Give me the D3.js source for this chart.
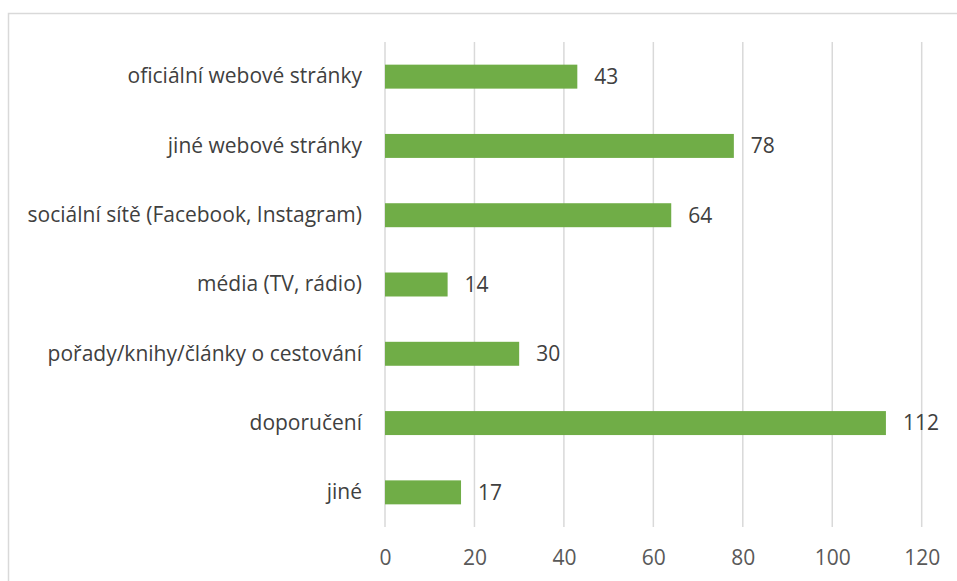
<!DOCTYPE html>
<html>
<head>
<meta charset="utf-8">
<script src="https://cdn.jsdelivr.net/npm/d3@7"></script>
<style>
  html, body { margin: 0; padding: 0; background: #fff; }
  svg { display: block; }
  text { font-family: "Open Sans", sans-serif; fill: #404040; }
</style>
</head>
<body>
<svg id="chart" width="957" height="581"></svg>
<script>
// Categories (top to bottom) and their counts
const categories = [
  "oficiální webové stránky",
  "jiné webové stránky",
  "sociální sítě (Facebook, Instagram)",
  "média (TV, rádio)",
  "pořady/knihy/články o cestování",
  "doporučení",
  "jiné"
];
const values = [43, 78, 64, 14, 30, 112, 17];
const xTicks = [0, 20, 40, 60, 80, 100, 120];

const svg = d3.select("#chart");
const W = 957, H = 581;
const fontSize = "21px";

// outer frame
svg.append("rect")
  .attr("x", 8.5).attr("y", 13.5)
  .attr("width", W + 10).attr("height", H + 10)
  .attr("fill", "none").attr("stroke", "#d9d9d9").attr("stroke-width", 1.5);

const plot = { left: 385, right: 921.7, top: 42, bottom: 527 };

const x = d3.scaleLinear().domain([0, 120]).range([plot.left, plot.right]);
const y = d3.scaleBand().domain(categories).range([plot.top, plot.bottom]).paddingInner(0.654).paddingOuter(0.327);

// vertical gridlines
svg.append("g")
  .selectAll("line")
  .data(xTicks)
  .join("line")
  .attr("x1", d => x(d)).attr("x2", d => x(d))
  .attr("y1", plot.top).attr("y2", plot.bottom)
  .attr("stroke", "#d9d9d9").attr("stroke-width", 1.5);

// x axis tick labels
const xAxis = d3.axisBottom(x).tickValues(xTicks).tickSize(0).tickPadding(0);
const gx = svg.append("g").attr("transform", `translate(0,${plot.bottom + 23})`).call(xAxis);
gx.select(".domain").remove();
gx.selectAll("text")
  .attr("dy", "0.71em")
  .style("font-size", fontSize)
  .style("fill", "#595959")
  .attr("font-family", null);

// y axis category labels
const yAxis = d3.axisLeft(y).tickSize(0).tickPadding(0);
const gy = svg.append("g").attr("transform", `translate(${plot.left - 23},0)`).call(yAxis);
gy.select(".domain").remove();
gy.selectAll("text")
  .style("font-size", fontSize)
  .style("fill", "#404040")
  .attr("font-family", null);

// bars
svg.append("g")
  .selectAll("rect")
  .data(values)
  .join("rect")
  .attr("x", x(0))
  .attr("y", (d, i) => y(categories[i]))
  .attr("width", d => x(d) - x(0))
  .attr("height", y.bandwidth())
  .attr("fill", "#70ad47");

// value labels
svg.append("g")
  .selectAll("text")
  .data(values)
  .join("text")
  .attr("x", d => x(d) + 17)
  .attr("y", (d, i) => y(categories[i]) + y.bandwidth() / 2)
  .attr("dy", "0.35em")
  .style("font-size", fontSize)
  .style("fill", "#404040")
  .text(d => d);
</script>
</body>
</html>
